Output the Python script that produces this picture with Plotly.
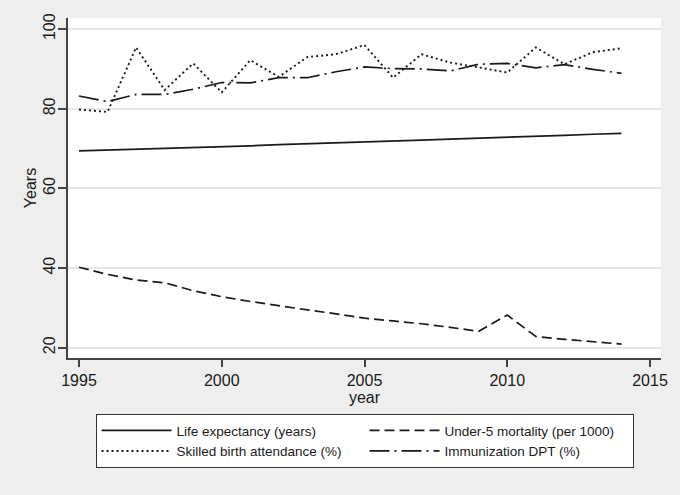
import plotly.graph_objects as go

years = list(range(1995, 2015))
life_expectancy = [69.4, 69.6, 69.8, 70.0, 70.3, 70.5, 70.7, 71.0, 71.2, 71.4,
                   71.7, 71.9, 72.1, 72.4, 72.6, 72.9, 73.1, 73.3, 73.6, 73.8]
under5_mortality = [40.2, 38.4, 37.0, 36.3, 34.3, 32.8, 31.6, 30.5, 29.5, 28.5,
                    27.4, 26.7, 26.0, 25.1, 24.1, 28.2, 22.8, 22.1, 21.5, 20.9]
skilled_birth = [79.8, 79.2, 95.4, 84.7, 91.4, 84.1, 92.2, 88.0, 93.0, 93.7,
                 96.0, 87.8, 93.7, 91.6, 90.4, 89.1, 95.4, 91.2, 94.2, 95.2]
immunization_dpt = [83.2, 81.8, 83.6, 83.6, 84.9, 86.6, 86.5, 87.8, 87.8, 89.3,
                    90.5, 90.1, 90.0, 89.5, 91.2, 91.4, 90.3, 91.1, 89.9, 88.9]

x_ticks = [1995, 2000, 2005, 2010, 2015]
y_ticks = [20, 40, 60, 80, 100]

FONT = "Liberation Sans, Arial, sans-serif"
INK = "#1a1a1a"

fig = go.Figure()
fig.add_trace(go.Scatter(x=years, y=life_expectancy, mode="lines",
                         name="Life expectancy (years)",
                         line=dict(color=INK, width=1.7, dash="solid")))
fig.add_trace(go.Scatter(x=years, y=under5_mortality, mode="lines",
                         name="Under-5 mortality (per 1000)",
                         line=dict(color=INK, width=1.7, dash="10px,5px")))
fig.add_trace(go.Scatter(x=years, y=skilled_birth, mode="lines",
                         name="Skilled birth attendance (%)",
                         line=dict(color=INK, width=1.9, dash="2px,3px")))
fig.add_trace(go.Scatter(x=years, y=immunization_dpt, mode="lines",
                         name="Immunization DPT (%)",
                         line=dict(color=INK, width=1.7, dash="20px,5px,2px,5px")))

fig.update_layout(
    width=680, height=495,
    margin=dict(l=68, r=19, t=18, b=137, autoexpand=False),
    paper_bgcolor="#eeeeee",
    plot_bgcolor="#ffffff",
    font=dict(family=FONT, size=16, color=INK),
    showlegend=True,
    legend=dict(
        orientation="h",
        x=0.5, xanchor="center",
        y=-0.165, yanchor="top",
        bgcolor="#ffffff",
        bordercolor="#333333",
        borderwidth=1,
        font=dict(family=FONT, size=13.5, color=INK),
        entrywidth=183,
        entrywidthmode="pixels",
        itemwidth=70,
        traceorder="normal",
    ),
    xaxis=dict(
        range=[1994.615, 2015.385],
        automargin=False,
        tickmode="array", tickvals=x_ticks, ticktext=[str(t) for t in x_ticks],
        showgrid=False, zeroline=False,
        showline=True, linecolor="#444444", linewidth=1.5,
        ticks="outside", ticklen=7, tickwidth=1.5, tickcolor="#444444",
        tickfont=dict(size=16),
        title=dict(text="year", font=dict(size=16), standoff=2),
    ),
    yaxis=dict(
        range=[17.4, 102.8],
        automargin=False,
        tickmode="array", tickvals=y_ticks, ticktext=[str(t) for t in y_ticks],
        tickangle=-90,
        ticklabelstandoff=-3,
        showgrid=True, gridcolor="#e6e6e6", gridwidth=1.5,
        zeroline=False,
        showline=True, linecolor="#444444", linewidth=1.5,
        ticks="outside", ticklen=8, tickwidth=1.5, tickcolor="#444444",
        tickfont=dict(size=16),
        title=dict(text="Years", font=dict(size=16), standoff=0),
    ),
)

fig.write_html(
    "out.html",
    config={"displayModeBar": False},
    post_script="document.body.style.margin='0';document.body.style.background='#eeeeee';",
)
